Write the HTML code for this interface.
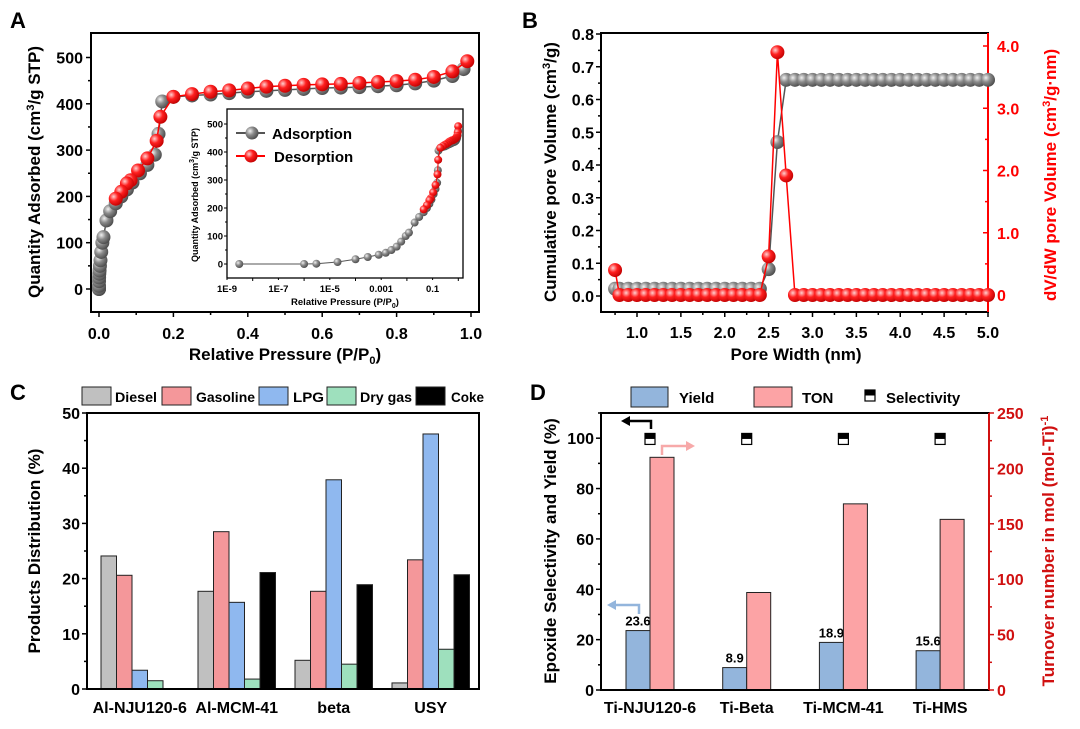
<!DOCTYPE html>
<html><head><meta charset="utf-8"><style>
html,body{margin:0;padding:0;background:#fff;}
svg{display:block;font-family:"Liberation Sans",Arial,sans-serif;font-weight:bold;}
</style></head><body>
<svg id="fig" width="1080" height="729" viewBox="0 0 1080 729" xmlns="http://www.w3.org/2000/svg">
<defs>
<radialGradient id="gg" cx="0.35" cy="0.35" r="0.7"><stop offset="0" stop-color="#f0f0f0"/><stop offset="0.45" stop-color="#8a8a8a"/><stop offset="1" stop-color="#4a4a4a"/></radialGradient>
<radialGradient id="gr" cx="0.35" cy="0.35" r="0.7"><stop offset="0" stop-color="#ffd0d0"/><stop offset="0.45" stop-color="#ff2020"/><stop offset="1" stop-color="#c00000"/></radialGradient>
</defs>
</svg>
<script>
// ---------- Panel A data ----------
const adsP=[3e-9,1e-6,3e-6,2e-5,1e-4,3e-4,8e-4,1.5e-3,2.5e-3,4e-3,6e-3,9e-3,0.012,0.02,0.03,0.045,0.06,0.075,0.09,0.11,0.13,0.15,0.16,0.17,0.2,0.25,0.3,0.35,0.4,0.45,0.5,0.55,0.6,0.65,0.7,0.75,0.8,0.85,0.9,0.95,0.98];
const adsQ=[0,0,1,7,17,25,33,40,50,62,80,100,112,148,168,185,200,215,230,250,268,290,335,405,415,418,420,423,426,428,430,432,434,435,436,438,440,444,450,460,475];
const desP=[0.99,0.95,0.9,0.85,0.8,0.75,0.7,0.65,0.6,0.55,0.5,0.45,0.4,0.35,0.3,0.25,0.2,0.165,0.155,0.13,0.105,0.085,0.075,0.06,0.045];
const desQ=[492,470,458,452,449,447,445,443,442,441,439,437,433,429,426,421,415,372,320,282,256,235,228,210,195];
// ---------- Panel B data ----------
const poreW=[0.75,0.8,0.9,1.0,1.1,1.2,1.3,1.4,1.5,1.6,1.7,1.8,1.9,2.0,2.1,2.2,2.3,2.4,2.5,2.6,2.7,2.8,2.9,3.0,3.1,3.2,3.3,3.4,3.5,3.6,3.7,3.8,3.9,4.0,4.1,4.2,4.3,4.4,4.5,4.6,4.7,4.8,4.9,5.0];
const cumV=[0.022,0.022,0.022,0.022,0.022,0.022,0.022,0.022,0.022,0.022,0.022,0.022,0.022,0.022,0.022,0.022,0.022,0.022,0.082,0.47,0.66,0.66,0.66,0.66,0.66,0.66,0.66,0.66,0.66,0.66,0.66,0.66,0.66,0.66,0.66,0.66,0.66,0.66,0.66,0.66,0.66,0.66,0.66,0.66];
const dvdw=[0.4,0,0,0,0,0,0,0,0,0,0,0,0,0,0,0,0,0,0.62,3.9,1.92,0,0,0,0,0,0,0,0,0,0,0,0,0,0,0,0,0,0,0,0,0,0,0];
// ---------- Panel C data ----------
const catsC=["Al-NJU120-6","Al-MCM-41","beta","USY"];
const seriesC=["Diesel","Gasoline","LPG","Dry gas","Coke"];
const diesel=[24.1,17.7,5.2,1.1];
const gasoline=[20.6,28.5,17.7,23.4];
const lpg=[3.4,15.7,37.9,46.2];
const drygas=[1.5,1.8,4.5,7.2];
const coke=[0,21.1,18.9,20.7];
const ticksC=[0,10,20,30,40,50];
// ---------- Panel D data ----------
const catsD=["Ti-NJU120-6","Ti-Beta","Ti-MCM-41","Ti-HMS"];
const yieldD=[23.6,8.9,18.9,15.6];
const tonD=[210,88,168,154];
const selD=[99.5,99.5,99.5,99.5];
const ticksDL=[0,20,40,60,80,100];
const ticksDR=[0,50,100,150,200,250];

const NS="http://www.w3.org/2000/svg";
const svg=document.getElementById('fig');
function mk(tag,attrs,name,parent){
  const el=document.createElementNS(NS,tag);
  for(const k in attrs) el.setAttribute(k,attrs[k]);
  
  
  (parent||svg).appendChild(el);
  return el;
}
function txt(x,y,s,size,name,opt){
  opt=opt||{};
  const el=mk('text',{x:x,y:y,'font-size':size,'text-anchor':opt.anchor||'middle',fill:opt.fill||'#000'},name);
  if(opt.rot!==undefined) el.setAttribute('transform','rotate('+opt.rot+' '+x+' '+y+')');
  if(opt.len) { el.setAttribute('textLength',opt.len); el.setAttribute('lengthAdjust','spacingAndGlyphs'); }
  if(opt.html) el.innerHTML=s; else el.textContent=s;
  return el;
}
function lin(d0,d1,r0,r1){return v=>r0+(v-d0)*(r1-r0)/(d1-d0);}
function line(x1,y1,x2,y2,name,col,w){return mk('line',{x1:x1,y1:y1,x2:x2,y2:y2,stroke:col||'#000','stroke-width':w||1.5},name);}
function box(x0,y0,x1,y1,name){mk('rect',{x:x0,y:y0,width:x1-x0,height:y1-y0,fill:'none',stroke:'#000','stroke-width':2},name);}
function poly(xs,ys,name,col,w){
  mk('polyline',{points:xs.map((x,i)=>x+','+ys[i]).join(' '),fill:'none',stroke:col,'stroke-width':w||1.5},name);
}
function dots(xs,ys,r,grad,name){
  xs.forEach((x,i)=>{mk('circle',{cx:x,cy:ys[i],r:r,fill:'url(#'+grad+')'},name);});
}

// Panel letters
txt(10,28,'A',22,'panel-a-label',{anchor:'start'});
txt(522,28,'B',22,'panel-b-label',{anchor:'start'});
txt(10,400,'C',22,'panel-c-label',{anchor:'start'});
txt(530,400,'D',22,'panel-d-label',{anchor:'start'});

// ================= Panel A =================
(function(){
  const L=91,T=33,R=479,B=312;
  const X=lin(0,1,99,471), Y=lin(0,500,289,57.5);
  box(L,T,R,B,'panel-a-plot-frame');
  for(let v=0;v<=500;v+=50){const y=Y(v);line(L,y,L-(v%100?3:5),y,'a-y-tick');if(v%100===0)txt(83,y+6,String(v),16,'a-y-tick-label',{anchor:'end'});}
  for(let v=0;v<=10;v++){const x=X(v/10);line(x,B,x,B+(v%2?3:5),'a-x-tick');if(v%2===0)txt(x,339,(v/10).toFixed(1),16,'a-x-tick-label');}
  txt(285,360,'Relative Pressure (P/P<tspan font-size="11" dy="4">0</tspan><tspan dy="-4">)</tspan>',17,'a-x-axis-title',{html:true});
  txt(40,172,'Quantity Adsorbed (cm<tspan font-size="11" dy="-6">3</tspan><tspan dy="6">/g STP)</tspan>',17,'a-y-axis-title',{rot:-90,html:true});
  const ax=adsP.map(X), ay=adsQ.map(Y);
  poly(ax,ay,'a-adsorption-line','#555',1.5);
  dots(ax,ay,7,'gg','a-adsorption-point');
  const dx=desP.map(X), dy=desQ.map(Y);
  poly(dx,dy,'a-desorption-line','#f00',1.5);
  dots(dx,dy,7,'gr','a-desorption-point');
  // inset
  const iL=227,iT=109,iR=463,iB=278;
  mk('rect',{x:iL,y:iT,width:iR-iL,height:iB-iT,fill:'#fff',stroke:'#000','stroke-width':1.3},'inset-frame');
  const IX=v=>iL+(Math.log10(v)+9)*25.7, IY=lin(0,500,264,124);
  for(let v=0;v<=500;v+=50){const y=IY(v);line(iL,y,iL-(v%100?2:3),y,'inset-y-tick','#000',1);if(v%100===0)txt(223,y+3.5,String(v),9.5,'inset-y-tick-label',{anchor:'end'});}
  const lbl=['1E-9','1E-7','1E-5','0.001','0.1'];
  for(let e=-9;e<=0;e++){const x=IX(Math.pow(10,e));line(x,iB,x,iB+(e%2?2:3),'inset-x-tick','#000',1);}
  lbl.forEach((s,i)=>{txt(IX(Math.pow(10,-9+2*i)),292,s,9.5,'inset-x-tick-label');});
  txt(345,305,'Relative Pressure (P/P<tspan font-size="7" dy="3">0</tspan><tspan dy="-3">)</tspan>',9.5,'inset-x-axis-title',{html:true});
  txt(198,195,'Quantity Adsorbed (cm<tspan font-size="7" dy="-4">3</tspan><tspan dy="4">/g STP)</tspan>',9,'inset-y-axis-title',{rot:-90,html:true});
  const ix=adsP.map(IX), iy=adsQ.map(IY);
  poly(ix,iy,'inset-adsorption-line','#555',1);
  dots(ix,iy,4,'gg','inset-adsorption-point');
  const jx=desP.map(IX), jy=desQ.map(IY);
  poly(jx,jy,'inset-desorption-line','#f00',1);
  dots(jx,jy,4,'gr','inset-desorption-point');
  line(236,133,265,133,'legend-adsorption-line','#555',2);
  mk('circle',{cx:252,cy:133,r:6.5,fill:'url(#gg)'},'legend-adsorption-marker');
  txt(272,139,'Adsorption',15,'legend-adsorption-label',{anchor:'start'});
  line(236,156,265,156,'legend-desorption-line','#f00',2);
  mk('circle',{cx:251,cy:156,r:6.5,fill:'url(#gr)'},'legend-desorption-marker');
  txt(274,162,'Desorption',15,'legend-desorption-label',{anchor:'start'});
})();

// ================= Panel B =================
(function(){
  const L=601,T=33,R=988,B=312;
  const X=lin(1,5,637,988), YL=lin(0,0.8,296,34), YR=lin(0,4,295,46);
  mk('rect',{x:L,y:T,width:R-L,height:B-T,fill:'none',stroke:'#000','stroke-width':2},'panel-b-plot-frame');
  line(R,T,R,B,'b-right-axis','#f00',2);
  for(let i=0;i<=16;i++){const v=i*0.05,y=YL(v);line(L,y,L-(i%2?3:5),y,'b-left-tick');if(i%2===0)txt(594,y+6,v.toFixed(1),16,'b-left-tick-label',{anchor:'end'});}
  for(let i=0;i<=8;i++){const v=i*0.5,y=YR(v);line(R,y,R-(i%2?3:5),y,'b-right-tick','#f00',1.5);if(i%2===0)txt(997,y+6,i===0?'0':v.toFixed(1),16,'b-right-tick-label',{anchor:'start',fill:'#f00'});}
  for(let i=3;i<=20;i++){const v=i*0.25,x=X(v);line(x,B,x,B+(i%2?3:5),'b-x-tick');if(i%2===0)txt(x,338,v.toFixed(1),16,'b-x-tick-label');}
  txt(796,360,'Pore Width (nm)',17,'b-x-axis-title');
  txt(556,172,'Cumulative pore Volume (cm<tspan font-size="11" dy="-6">3</tspan><tspan dy="6">/g)</tspan>',17,'b-left-axis-title',{rot:-90,html:true});
  txt(1056,175,'dV/dW pore Volume (cm<tspan font-size="11" dy="-6">3</tspan><tspan dy="6">/g·nm)</tspan>',17,'b-right-axis-title',{rot:-90,html:true,fill:'#f00'});
  const gx=poreW.map(X), gy=cumV.map(YL);
  poly(gx,gy,'b-cumulative-line','#555',1.5);
  dots(gx,gy,7,'gg','b-cumulative-point');
  const ry=dvdw.map(YR);
  poly(gx,ry,'b-dvdw-line','#f00',1.5);
  dots(gx,ry,7,'gr','b-dvdw-point');
})();

// ================= Panel C =================
(function(){
  const L=87,T=413,R=479,B=689;
  const Y=lin(0,50,689,413);
  const vals=[diesel,gasoline,lpg,drygas,coke];
  const cols=['#c0c0c0','#f4979a','#8fb8ef','#9ee0bd','#000000'];
  const bw=15.5, g0=101, pitch=97;
  vals.forEach((arr,s)=>{arr.forEach((v,i)=>{
    if(v<=0) return;
    const x=g0+i*pitch+s*bw;
    mk('rect',{x:x,y:Y(v),width:bw,height:Y(0)-Y(v),fill:cols[s],stroke:'#222','stroke-width':1},'c-bar-'+seriesC[s].toLowerCase().replace(' ','-'));
  });});
  box(L,T,R,B,'panel-c-plot-frame');
  for(let v=0;v<=50;v+=5){const y=Y(v);line(L,y,L-(v%10?3:5),y,'c-y-tick');}
  ticksC.forEach(v=>{txt(80,Y(v)+6,String(v),16,'c-y-tick-label',{anchor:'end'});});
  catsC.forEach((c,i)=>{txt(g0+i*pitch+bw*2.5,713,c,16,'c-x-tick-label');});
  txt(40,551,'Products Distribution (%)',17,'c-y-axis-title',{rot:-90});
  const lx=[82,162,259,327,416], tx=[115,196,293,360,451], tl=[42,59,31,52,33];
  seriesC.forEach((s,i)=>{
    mk('rect',{x:lx[i],y:387,width:29,height:18,fill:cols[i],stroke:'#222','stroke-width':1},'c-legend-swatch');
    txt(tx[i],402,s,14,'c-legend-label',{anchor:'start',len:tl[i]});
  });
})();

// ================= Panel D =================
(function(){
  const L=601,T=413,R=989,B=690;
  const YL=lin(0,110,690,413), YR=lin(0,250,690,413);
  const c0=650,pitch=96.7,bw=24;
  yieldD.forEach((v,i)=>{
    const cx=c0+i*pitch;
    mk('rect',{x:cx-bw,y:YL(v),width:bw,height:YL(0)-YL(v),fill:'#93b5dc',stroke:'#222','stroke-width':1},'d-bar-yield');
    txt(cx-bw/2,YL(v)-5,v.toFixed(1),13,'d-yield-value-label');
  });
  tonD.forEach((v,i)=>{
    const cx=c0+i*pitch;
    mk('rect',{x:cx,y:YR(v),width:bw,height:YR(0)-YR(v),fill:'#fca3a5',stroke:'#222','stroke-width':1},'d-bar-ton');
  });
  selD.forEach((v,i)=>{
    const cx=c0+i*pitch,y=YL(v);
    mk('rect',{x:cx-5,y:y-6,width:10,height:11,fill:'#fff',stroke:'#000','stroke-width':1.2},'d-selectivity-marker');
    mk('rect',{x:cx-5,y:y-6,width:10,height:5.5,fill:'#000'},'d-selectivity-marker-fill');
  });
  mk('rect',{x:L,y:T,width:R-L,height:B-T,fill:'none',stroke:'#000','stroke-width':2},'panel-d-plot-frame');
  line(R,T,R,B,'d-right-axis','#d01010',2);
  for(let v=0;v<=110;v+=10){const y=YL(v);line(L,y,L-(v%20?3:5),y,'d-left-tick');}
  ticksDL.forEach(v=>{txt(594,YL(v)+6,String(v),16,'d-left-tick-label',{anchor:'end'});});
  for(let v=0;v<=250;v+=25){const y=YR(v);line(R,y,R+(v%50?3:5),y,'d-right-tick','#d01010',1.5);}
  ticksDR.forEach(v=>{txt(997,YR(v)+6,String(v),16,'d-right-tick-label',{anchor:'start',fill:'#d01010'});});
  catsD.forEach((c,i)=>{txt(c0+i*pitch,713,c,16,'d-x-tick-label');});
  txt(556,551,'Epoxide Selectivity and Yield (%)',17,'d-left-axis-title',{rot:-90});
  txt(1054,551,'Turnover number in mol (mol-Ti)<tspan font-size="11" dy="-6">-1</tspan>',17,'d-right-axis-title',{rot:-90,html:true,fill:'#d01010'});
  // arrows
  mk('polyline',{points:'651,429 651,421 628,421',fill:'none',stroke:'#000','stroke-width':2.5},'d-arrow-selectivity');
  mk('polygon',{points:'621,421 630,416 630,426',fill:'#000'},'d-arrow-selectivity-head');
  mk('polyline',{points:'662,455 662,446 688,446',fill:'none',stroke:'#f7a9a9','stroke-width':2.5},'d-arrow-ton');
  mk('polygon',{points:'695,446 686,441 686,451',fill:'#f7a9a9'},'d-arrow-ton-head');
  mk('polyline',{points:'639,614 639,605 614,605',fill:'none',stroke:'#93b5dc','stroke-width':2.5},'d-arrow-yield');
  mk('polygon',{points:'607,605 616,600 616,610',fill:'#93b5dc'},'d-arrow-yield-head');
  // legend
  mk('rect',{x:631,y:387,width:37,height:20,fill:'#93b5dc',stroke:'#222','stroke-width':1},'d-legend-yield-swatch');
  txt(679,403,'Yield',15,'d-legend-yield-label',{anchor:'start'});
  mk('rect',{x:754,y:387,width:38,height:20,fill:'#fca3a5',stroke:'#222','stroke-width':1},'d-legend-ton-swatch');
  txt(802,403,'TON',15,'d-legend-ton-label',{anchor:'start'});
  mk('rect',{x:865,y:390,width:10,height:11,fill:'#fff',stroke:'#000','stroke-width':1.2},'d-legend-selectivity-marker');
  mk('rect',{x:865,y:390,width:10,height:5.5,fill:'#000'},'d-legend-selectivity-marker-fill');
  txt(886,403,'Selectivity',15,'d-legend-selectivity-label',{anchor:'start'});
})();
</script>
</body></html>
